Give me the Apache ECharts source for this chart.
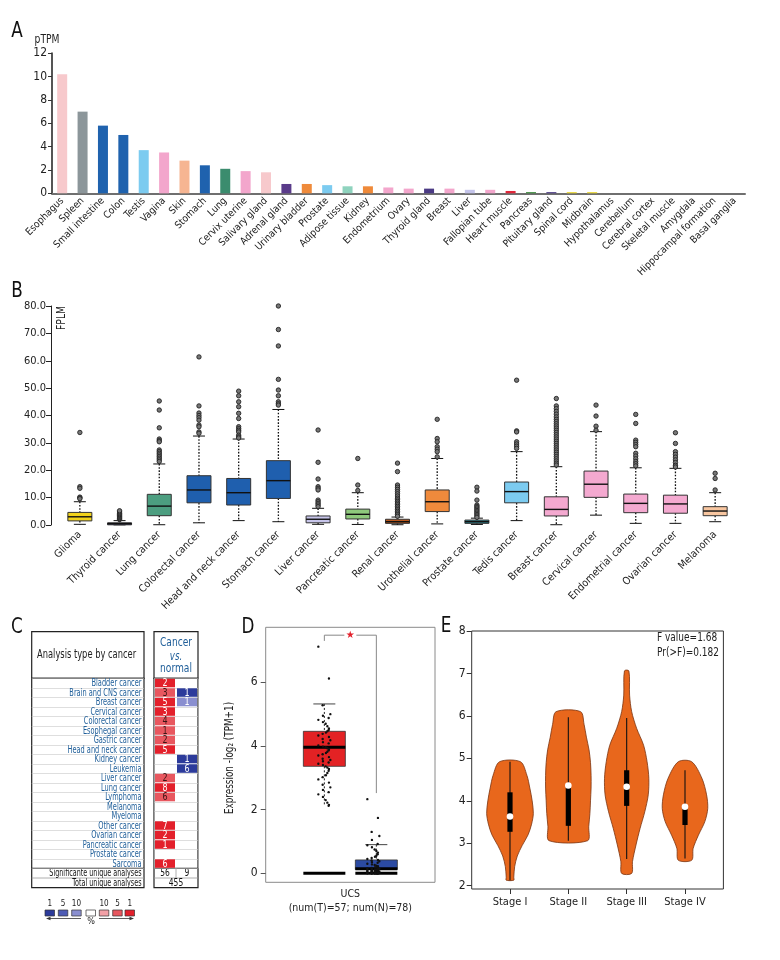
<!DOCTYPE html>
<html>
<head>
<meta charset="utf-8">
<title>Expression panels A-E</title>
<script src="https://cdn.jsdelivr.net/npm/echarts@6/dist/echarts.min.js"></script>
<style>
  html, body { margin: 0; padding: 0; background: #fff; }
  #chart { width: 780px; height: 960px; }
</style>
</head>
<body>
<div id="chart"></div>
<script>
// ---------- Panel A: normal tissue pTPM ----------
const tissueNames = ['Esophagus', 'Spleen', 'Small intestine', 'Colon', 'Testis', 'Vagina', 'Skin', 'Stomach',
    'Lung', 'Cervix uterine', 'Salivary gland', 'Adrenal gland', 'Urinary bladder', 'Prostate', 'Adipose tissue',
    'Kidney', 'Endometrium', 'Ovary', 'Thyroid gland', 'Breast', 'Liver', 'Fallopian tube', 'Heart muscle',
    'Pancreas', 'Pituitary gland', 'Spinal cord', 'Midbrain', 'Hypothalamus', 'Cerebellum', 'Cerebral cortex',
    'Skeletal muscle', 'Amygdala', 'Hippocampal formation', 'Basal ganglia'];
const tissuePTPM = [10.2, 7.0, 5.8, 5.0, 3.7, 3.5, 2.8, 2.4, 2.1, 1.9, 1.8, 0.8, 0.8, 0.7, 0.6, 0.6, 0.5, 0.4,
    0.4, 0.4, 0.3, 0.3, 0.2, 0.1, 0.1, 0.1, 0.1, 0, 0, 0, 0, 0, 0, 0];

// ---------- Panel B: cancer FPKM boxplots ----------
const cancerNames = ['Glioma', 'Thyroid cancer', 'Lung cancer', 'Colorectal cancer', 'Head and neck cancer',
    'Stomach cancer', 'Liver cancer', 'Pancreatic cancer', 'Renal cancer', 'Urothelial cancer', 'Prostate cancer',
    'Tedis cancer', 'Breast cancer', 'Cervical cancer', 'Endometrial cancer', 'Ovarian cancer', 'Melanoma'];
const boxLow    = [0.25, 0.05, 0.1, 0.8, 1.6, 1.2, 0.25, 0.2, 0.1, 0.4, 0.2, 1.6, 0.1, 3.6, 0.6, 0.6, 1.2];
const boxQ1     = [1.5, 0.2, 3.4, 8.1, 7.3, 9.7, 0.8, 2.2, 0.6, 4.9, 0.6, 8.1, 3.3, 10.1, 4.5, 4.3, 3.4];
const boxMedian = [3.0, 0.5, 6.9, 12.8, 11.8, 16.2, 2.1, 3.9, 1.2, 8.5, 1.2, 12.2, 5.7, 14.9, 7.9, 7.7, 5.1];
const boxQ3     = [4.6, 0.8, 11.2, 18.0, 17.0, 23.5, 3.3, 5.8, 2.1, 12.8, 1.8, 15.7, 10.3, 19.7, 11.3, 10.9, 6.7];
const boxHigh   = [8.5, 1.6, 22.3, 32.5, 31.4, 42.2, 6.1, 11.8, 2.9, 24.3, 2.5, 26.8, 21.3, 34.1, 20.9, 20.7, 11.8];
const boxOutliers = [
    [33.8, 14.0, 13.4, 10.2, 9.9, 9.6],
    [2.0, 2.3, 2.6, 2.9, 3.2, 3.5, 3.8, 4.1, 4.4, 4.8, 5.2],
    [45.3, 42.0, 35.5, 31.4, 30.8, 30.4, 27.4, 26.8, 26.2, 25.6, 25.0, 24.4, 23.8, 23.2],
    [61.4, 43.5, 40.9, 40.0, 39.2, 38.3, 36.5, 35.9, 34.0, 33.5],
    [48.9, 47.2, 45.0, 43.2, 40.8, 38.9, 35.9, 35.2, 34.6, 34.0, 32.8, 32.2, 31.8],
    [80.0, 71.4, 65.4, 53.2, 49.3, 47.2, 45.0, 44.3, 43.8],
    [34.7, 22.9, 16.8, 14.0, 13.4, 12.8, 9.1, 8.5, 7.9, 7.3, 6.7],
    [24.3, 14.6, 12.6],
    [22.6, 19.5, 14.6, 13.8, 13.0, 12.2, 11.4, 10.6, 9.8, 9.2, 8.6, 8.0, 7.4, 6.8, 6.2, 5.6, 5.0, 4.4, 3.8, 3.2],
    [38.6, 31.6, 30.4, 28.6, 27.7, 26.8, 24.9],
    [13.8, 12.4, 9.1, 7.3, 6.8, 6.3, 5.8, 5.3, 4.8, 4.3, 3.8, 3.3, 2.8],
    [52.9, 34.4, 34.0, 30.4, 29.6, 28.8, 28.0],
    [46.2, 43.5, 42.5, 41.5, 40.5, 39.5, 38.6, 37.8, 37.0, 36.2, 35.4, 34.6, 33.8, 33.0, 32.2, 31.4, 30.6,
        29.8, 29.0, 28.2, 27.4, 26.6, 25.8, 25.0, 24.2, 23.4, 22.6, 21.9],
    [43.8, 39.8, 36.1, 34.6],
    [40.4, 37.1, 31.0, 30.2, 29.4, 28.6, 26.2, 25.2, 24.2, 23.2, 22.4, 21.6],
    [33.7, 29.8, 26.8, 25.8, 24.8, 23.8, 22.8, 21.8, 21.2],
    [18.9, 17.0, 12.8]
];

// ---------- Panel C: Oncomine cancer vs. normal ----------
const oncoCancers = ['Bladder cancer', 'Brain and CNS cancer', 'Breast cancer', 'Cervical cancer',
    'Colorectal cancer', 'Esophegal cancer', 'Gastric cancer', 'Head and neck cancer', 'Kidney cancer',
    'Leukemia', 'Liver cancer', 'Lung cancer', 'Lymphoma', 'Melanoma', 'Myeloma', 'Other cancer',
    'Ovarian cancer', 'Pancreatic cancer', 'Prostate cancer', 'Sarcoma'];
const upCounts   = [2, 3, 5, 3, 4, 1, 2, 5, null, null, 2, 8, 6, null, null, 7, 2, 1, null, 6];
const upRanks    = [1, 5, 1, 1, 5, 5, 5, 1, null, null, 5, 1, 5, null, null, 1, 1, 1, null, 1];
const downCounts = [null, 1, 1, null, null, null, null, null, 1, 6, null, null, null, null, null, null, null, null, null, null];
const downRanks  = [null, 1, 10, null, null, null, null, null, 1, 1, null, null, null, null, null, null, null, null, null, null];
const significantUp = 56;
const significantDown = 9;
const totalAnalyses = 455;
const legendRanks = [1, 5, 10];

// ---------- Panel D: UCS tumour vs normal ----------
const ucsTumorBox = [2.13, 3.36, 3.96, 4.46, 5.32];   // low, Q1, median, Q3, high
const ucsNormalBox = [0, 0.12, 0.14, 0.42, 0.9];
const ucsTumorPoints = [7.12, 6.12, 5.28, 5.0, 4.95, 4.88, 4.82, 4.75, 4.7, 4.62,
    4.55, 4.5, 4.46, 4.42, 4.38, 4.33, 4.28, 4.22, 4.18, 4.12,
    4.08, 4.02, 3.98, 3.96, 3.93, 3.9, 3.86, 3.82, 3.78, 3.74,
    3.7, 3.65, 3.6, 3.56, 3.52, 3.48, 3.44, 3.4, 3.36, 3.32,
    3.28, 3.22, 3.15, 3.08, 3.02, 2.95, 2.85, 2.78, 2.7, 2.62,
    2.55, 2.48, 2.4, 2.3, 2.22, 2.15, 2.12];
const ucsNormalPoints = [2.33, 1.74, 1.3, 1.17, 1.05, 0.92, 0.88, 0.82, 0.75, 0.7,
    0.65, 0.6, 0.55, 0.52, 0.48, 0.45, 0.42, 0.4, 0.38, 0.35,
    0.33, 0.3, 0.28, 0.26, 0.24, 0.22, 0.2, 0.19, 0.18, 0.17,
    0.16, 0.15, 0.14, 0.14, 0.13, 0.13, 0.12, 0.12, 0.11, 0.11,
    0.1, 0.1, 0.09, 0.09, 0.08, 0.08, 0.07, 0.07, 0.06, 0.06,
    0.05, 0.05, 0.05, 0.04, 0.04, 0.04, 0.03, 0.03, 0.03, 0.02,
    0.02, 0.02, 0.02, 0.01, 0.01, 0.01, 0.01, 0.01, 0, 0,
    0, 0, 0, 0, 0, 0, 0, 0];
const ucsCategory = ['UCS'];
const ucsTumorN = 57;
const ucsNormalN = 78;

// ---------- Panel E: expression by stage (violins) ----------
const stageNames = ['Stage I', 'Stage II', 'Stage III', 'Stage IV'];
const violinLevels = [
    [4.92, 4.6, 4.3, 4.0, 3.7, 3.45, 3.2, 2.95, 2.7, 2.45, 2.2, 2.13],
    [6.1, 5.8, 5.5, 5.2, 4.9, 4.6, 4.3, 4.0, 3.7, 3.4, 3.06],
    [7.06, 6.49, 6.1, 5.71, 5.31, 4.92, 4.53, 4.14, 3.74, 3.35, 2.96, 2.57, 2.29],
    [4.92, 4.53, 4.14, 3.82, 3.51, 3.19, 2.88, 2.6]
];
// half width of each violin at those levels, in units of the stage spacing
const violinDensity = [
    [0.18, 0.29, 0.34, 0.38, 0.40, 0.37, 0.31, 0.21, 0.125, 0.08, 0.065, 0.065],
    [0.21, 0.27, 0.31, 0.355, 0.38, 0.39, 0.39, 0.38, 0.37, 0.35, 0.33],
    [0.038, 0.05, 0.086, 0.17, 0.29, 0.35, 0.38, 0.37, 0.31, 0.23, 0.16, 0.10, 0.086],
    [0.115, 0.29, 0.37, 0.39, 0.34, 0.23, 0.14, 0.115]
];
const stageLow    = [2.13, 3.06, 2.63, 2.64];
const stageQ1     = [3.27, 3.41, 3.88, 3.43];
const stageMedian = [3.63, 4.36, 4.33, 3.86];
const stageQ3     = [4.2, 4.32, 4.72, 3.86];
const stageHigh   = [4.92, 5.97, 5.95, 4.72];
const fValue = 1.68;
const prF = 0.182;

// ---------- styles ----------
const FONT = '"Liberation Sans Narrow", "DejaVu Sans Condensed", Roboto, sans-serif';
const tissueColors = ['#f7c9cc', '#8c969a', '#1f62ae', '#1f62ae', '#7ccbf0', '#f3a6cc', '#f6b592', '#1f62ae',
    '#3b8c6e', '#f3a6cc', '#f7c9cc', '#5a3b8a', '#ef8a3a', '#7ccbf0', '#8fd3be', '#ef8a3a', '#f3a6cc', '#f3a6cc',
    '#4b3a84', '#f3a6cc', '#c4c4ea', '#f3a6cc', '#e0263a', '#3a8a3a', '#4b3a84', '#e8d530', '#e8d530',
    '#cccccc', '#cccccc', '#cccccc', '#cccccc', '#cccccc', '#cccccc', '#cccccc'];
const cancerColors = ['#f2d31b', '#3b3a6e', '#4c9e80', '#1f5fae', '#1f5fae', '#1f5fae', '#c7c5ea', '#8ec87c',
    '#b8561c', '#ef8a3c', '#2b8c99', '#7ccbf0', '#f4a9d0', '#f4a9d0', '#f4a9d0', '#f4a9d0', '#f8c6a0'];
const redShades = { 1: '#e3202b', 5: '#e8575f', 10: '#f2a0a6' };
const blueShades = { 1: '#2c3b9b', 5: '#4d5bb5', 10: '#8a8fd0' };
const oncoBlue = '#1f5e99';

function font(size, extra) {
    return (extra ? extra + ' ' : '') + size + 'px ' + FONT;
}

// Panel B box renderer
function renderCancerBox(params, api) {
    const i = api.value(0);
    const cx = api.coord([i, 0])[0];
    const y = v => api.coord([i, v])[1];
    const half = 12, cap = 6;
    const dotted = { stroke: '#111', lineWidth: 1.3, lineDash: [1.6, 1.6] };
    const solid = { stroke: '#111', lineWidth: 1 };
    const children = [
        { type: 'line', shape: { x1: cx, y1: y(boxHigh[i]), x2: cx, y2: y(boxQ3[i]) }, style: dotted },
        { type: 'line', shape: { x1: cx, y1: y(boxQ1[i]), x2: cx, y2: y(boxLow[i]) }, style: dotted },
        { type: 'line', shape: { x1: cx - cap, y1: y(boxHigh[i]), x2: cx + cap, y2: y(boxHigh[i]) }, style: solid },
        { type: 'line', shape: { x1: cx - cap, y1: y(boxLow[i]), x2: cx + cap, y2: y(boxLow[i]) }, style: solid },
        {
            type: 'rect',
            shape: { x: cx - half, y: y(boxQ3[i]), width: half * 2, height: Math.max(y(boxQ1[i]) - y(boxQ3[i]), 2) },
            style: { fill: cancerColors[i], stroke: '#333', lineWidth: 1 }
        },
        { type: 'line', shape: { x1: cx - half, y1: y(boxMedian[i]), x2: cx + half, y2: y(boxMedian[i]) },
          style: { stroke: '#111', lineWidth: 1.4 } }
    ];
    boxOutliers[i].forEach(v => {
        children.push({ type: 'circle', shape: { cx: cx, cy: y(v), r: 2.2 },
            style: { fill: '#777', stroke: '#222', lineWidth: 0.9 } });
    });
    return { type: 'group', children: children };
}

// Panel C row label renderer (condensed text, right aligned in the left table)
function renderRowLabel(params, api) {
    const row = api.value(1);
    const c = api.coord([1, row]);
    return { type: 'text', x: c[0] - 2.5, y: c[1] + 0.5, scaleX: 0.7,
        style: { text: oncoCancers[row], fill: oncoBlue, font: font(10.5), align: 'right', verticalAlign: 'middle' } };
}

// Panel C cell renderer
function renderCell(params, api) {
    const col = api.value(0), row = api.value(1);
    const count = api.value(2), rank = api.value(3);
    const c = api.coord([col, row]);
    const s = api.size([1, 1]);
    const fill = (col === 0 ? redShades : blueShades)[rank];
    const textFill = (col === 0 && rank !== 1) ? '#3a1414' : '#ffffff';
    return {
        type: 'group',
        children: [
            { type: 'rect', shape: { x: c[0] - s[0] / 2 + 1, y: c[1] - s[1] / 2 + 0.5, width: s[0] - 2, height: s[1] - 1 },
              style: { fill: fill } },
            { type: 'text', x: c[0], y: c[1] + 0.5, scaleX: 0.85,
              style: { text: String(count), fill: textFill, font: font(10.5), align: 'center', verticalAlign: 'middle' } }
        ]
    };
}

// Panel D box renderer (tumour left, normal right of the category centre)
function renderUcsBoxes(params, api) {
    const cx = api.coord([0, 0])[0];
    const y = v => api.coord([0, v])[1];
    const children = [];
    [[ucsTumorBox, -26, '#e32224'], [ucsNormalBox, 26, '#2b4aa2']].forEach(([b, dx, color]) => {
        const x = cx + dx, half = 21, cap = 11;
        const dotted = { stroke: '#222', lineWidth: 1, lineDash: [2, 2] };
        children.push(
            { type: 'line', shape: { x1: x, y1: y(b[4]), x2: x, y2: y(b[3]) }, style: dotted },
            { type: 'line', shape: { x1: x, y1: y(b[1]), x2: x, y2: y(b[0]) }, style: dotted },
            { type: 'line', shape: { x1: x - cap, y1: y(b[4]), x2: x + cap, y2: y(b[4]) }, style: { stroke: '#444', lineWidth: 1 } },
            { type: 'rect', shape: { x: x - half, y: y(b[3]), width: half * 2, height: y(b[1]) - y(b[3]) },
              style: { fill: color, stroke: '#333', lineWidth: 0.8 } },
            { type: 'line', shape: { x1: x - half, y1: y(b[2]), x2: x + half, y2: y(b[2]) }, style: { stroke: '#000', lineWidth: 3 } },
            { type: 'line', shape: { x1: x - half, y1: y(0), x2: x + half, y2: y(0) }, style: { stroke: '#000', lineWidth: 3 } }
        );
    });
    // significance bracket
    const xl = cx - 26, xr = cx + 26, yTop = y(7.48);
    const bracket = { stroke: '#888', lineWidth: 1 };
    children.push(
        { type: 'line', shape: { x1: xl, y1: y(7.3), x2: xl, y2: yTop }, style: bracket },
        { type: 'line', shape: { x1: xl, y1: yTop, x2: cx - 6, y2: yTop }, style: bracket },
        { type: 'line', shape: { x1: cx + 6, y1: yTop, x2: xr, y2: yTop }, style: bracket },
        { type: 'line', shape: { x1: xr, y1: yTop, x2: xr, y2: y(2.52) }, style: bracket },
        { type: 'text', x: cx, y: yTop, style: { text: '\u2605', fill: '#e3202b', font: '10px "DejaVu Sans"',
          align: 'center', verticalAlign: 'middle' } }
    );
    return { type: 'group', children: children };
}

// jittered sample dots; the offset is a fixed scramble of the point index
function pointRenderer(dx) {
    return function (params, api) {
        const c = api.coord([0, api.value(1)]);
        const k = params.dataIndex;
        const jitter = ((k * k * 7 + k * 3) % 15) - 7 + ((k * 5) % 3) * 0.3;
        return { type: 'circle', shape: { cx: c[0] + dx + jitter, cy: c[1], r: 1.2 }, style: { fill: '#111' } };
    };
}

// Panel E violin renderer
function renderViolin(params, api) {
    const i = api.value(0);
    const cx = api.coord([i, 4])[0];
    const unit = api.coord([1, 4])[0] - api.coord([0, 4])[0];
    const y = v => api.coord([i, v])[1];
    const lv = violinLevels[i], dn = violinDensity[i];
    const right = lv.map((v, k) => [cx + dn[k] * unit, y(v)]);
    const left = lv.map((v, k) => [cx - dn[k] * unit, y(v)]).reverse();
    return {
        type: 'group',
        children: [
            { type: 'polygon', shape: { points: right.concat(left), smooth: 0.3 },
              style: { fill: '#e8671c', stroke: '#7a3410', lineWidth: 0.8 } },
            { type: 'line', shape: { x1: cx, y1: y(stageHigh[i]), x2: cx, y2: y(stageLow[i]) },
              style: { stroke: '#111', lineWidth: 1.1 } },
            { type: 'rect', shape: { x: cx - 2.6, y: y(stageQ3[i]), width: 5.2, height: y(stageQ1[i]) - y(stageQ3[i]) },
              style: { fill: '#000' } },
            { type: 'circle', shape: { cx: cx, cy: y(stageMedian[i]), r: 3.3 }, style: { fill: '#fff' } }
        ]
    };
}

// ---------- static decorations (panel letters, table frames, legend) ----------
function buildGraphics() {
    const g = [];
    const text = (t, x, y, opt) => g.push({ type: 'text', x: x, y: y,
        rotation: (opt && opt.rotation) || 0, scaleX: (opt && opt.scaleX) || 1,
        style: Object.assign({ text: t, font: font(11), fill: '#222', align: 'center', verticalAlign: 'middle' }, opt && opt.style) });
    const rect = (x, y, w, h, stroke, lw) => g.push({ type: 'rect', shape: { x: x, y: y, width: w, height: h },
        style: { fill: 'none', stroke: stroke || '#222', lineWidth: lw || 1.2 } });
    const line = (x1, y1, x2, y2, stroke, lw) => g.push({ type: 'line', shape: { x1: x1, y1: y1, x2: x2, y2: y2 },
        style: { stroke: stroke || '#222', lineWidth: lw || 1 } });

    // panel letters
    [['A', 17, 31], ['B', 17, 291], ['C', 17, 627], ['D', 248, 627], ['E', 446, 626]].forEach(([t, x, y]) =>
        text(t, x, y, { scaleX: 0.85, style: { font: font(22), fill: '#111' } }));

    // axis names and notes
    text('pTPM', 47, 40, { scaleX: 0.85, style: { font: font(12) } });
    text('FPLM', 62, 318, { rotation: Math.PI / 2, scaleX: 0.85, style: { font: font(12) } });
    text('Expression -log\u2082 (TPM+1)', 230, 758, { rotation: Math.PI / 2, scaleX: 0.82, style: { font: font(12) } });
    text('F value=' + fValue, 657, 638, { scaleX: 0.8, style: { font: font(12.5), align: 'left' } });
    text('Pr(>F)=' + prF, 657, 653, { scaleX: 0.8, style: { font: font(12.5), align: 'left' } });

    // panel C table frames
    rect(31.7, 631.7, 112.3, 46.6);
    rect(154, 631.7, 44, 46.6);
    rect(31.7, 678.3, 112.3, 209.4);
    rect(154, 678.3, 44, 209.4);
    text('Analysis type by cancer', 37, 655, { scaleX: 0.74, style: { font: font(12.5), align: 'left' } });
    text('Cancer', 176, 643, { scaleX: 0.78, style: { font: font(13), fill: oncoBlue } });
    text('vs.', 176, 656.5, { scaleX: 0.8, style: { font: font(12, 'italic'), fill: oncoBlue } });
    text('normal', 176, 669, { scaleX: 0.78, style: { font: font(13), fill: oncoBlue } });
    line(31.7, 868.3, 144, 868.3, '#222', 1.2);
    line(154, 868.3, 198, 868.3, '#222', 1.2);
    line(31.7, 878, 144, 878, '#999', 0.8);
    line(154, 878, 198, 878, '#999', 0.8);
    line(176, 868.3, 176, 878, '#999', 0.8);
    text('Significante unique analyses', 141.5, 873.3, { scaleX: 0.68, style: { font: font(10.5), align: 'right', fill: '#111' } });
    text('Total unique analyses', 141.5, 883, { scaleX: 0.68, style: { font: font(10.5), align: 'right', fill: '#111' } });
    text(String(significantUp), 165, 873.3, { scaleX: 0.8, style: { font: font(10.5), fill: '#111' } });
    text(String(significantDown), 187, 873.3, { scaleX: 0.8, style: { font: font(10.5), fill: '#111' } });
    text(String(totalAnalyses), 176, 883, { scaleX: 0.8, style: { font: font(10.5), fill: '#111' } });

    // panel C colour legend
    const sw = [45, 58.3, 71.7, 86, 99.3, 112.7, 125];
    const swFill = [blueShades[legendRanks[0]], blueShades[legendRanks[1]], blueShades[legendRanks[2]], '#ffffff',
        redShades[legendRanks[2]], redShades[legendRanks[1]], redShades[legendRanks[0]]];
    const swLabel = [legendRanks[0], legendRanks[1], legendRanks[2], '', legendRanks[2], legendRanks[1], legendRanks[0]];
    sw.forEach((x, k) => {
        g.push({ type: 'rect', shape: { x: x, y: 910, width: 9.5, height: 6 },
            style: { fill: swFill[k], stroke: '#333', lineWidth: 0.7 } });
        if (swLabel[k] !== '') text(String(swLabel[k]), x + 4.75, 903.5, { scaleX: 0.85, style: { font: font(9.5) } });
    });
    line(50, 918.5, 81, 918.5, '#333', 0.8);
    g.push({ type: 'polygon', shape: { points: [[46, 918.5], [50.5, 916.8], [50.5, 920.2]] }, style: { fill: '#333' } });
    line(99, 918.5, 130, 918.5, '#333', 0.8);
    g.push({ type: 'polygon', shape: { points: [[134, 918.5], [129.5, 916.8], [129.5, 920.2]] }, style: { fill: '#333' } });
    text('%', 91, 922, { style: { font: font(9) } });
    return g;
}

const chart = echarts.init(document.getElementById('chart'), null, { renderer: 'canvas' });

const hiddenValue = (gridIndex, min, max) => ({ type: 'value', gridIndex: gridIndex, show: false, min: min, max: max });

const cellData = [];
oncoCancers.forEach((name, r) => {
    if (upCounts[r] != null) cellData.push([0, r, upCounts[r], upRanks[r]]);
    if (downCounts[r] != null) cellData.push([1, r, downCounts[r], downRanks[r]]);
});

const option = {
    animation: false,
    backgroundColor: '#ffffff',
    textStyle: { fontFamily: FONT },
    grid: [
        { left: 52, top: 53.3, width: 693, height: 140, outerBoundsMode: 'none' },              // A
        { left: 60, top: 306, width: 675, height: 219, outerBoundsMode: 'none' },               // B
        { left: 31.7, top: 678.3, width: 112.3, height: 190, outerBoundsMode: 'none' },         // C labels
        { left: 154, top: 678.3, width: 44, height: 190, outerBoundsMode: 'none' },             // C cells
        { left: 265.7, top: 627.3, width: 169.3, height: 255, show: true, borderColor: '#8a8a8a',
          borderWidth: 1, outerBoundsMode: 'none' },                                             // D frame
        { left: 265.7, top: 682.3, width: 169.3, height: 191, outerBoundsMode: 'none' },        // D plot
        { left: 471.7, top: 631, width: 251.7, height: 258, show: true, borderColor: '#333',
          borderWidth: 1, outerBoundsMode: 'none' },                                             // E frame
        { left: 510, top: 631, width: 175, height: 254.7, outerBoundsMode: 'none' }             // E plot
    ],
    xAxis: [
        {
            type: 'category', gridIndex: 0, data: tissueNames,
            axisLine: { lineStyle: { color: '#6f6f6f', width: 2 } },
            axisTick: { alignWithLabel: true, length: 4, lineStyle: { color: '#333', width: 1.2 } },
            axisLabel: { rotate: 45, interval: 0, margin: 6, fontSize: 10, color: '#222', fontFamily: FONT }
        },
        {
            type: 'category', gridIndex: 1, data: cancerNames,
            axisLine: { show: false }, axisTick: { show: false },
            axisLabel: { rotate: 45, interval: 0, margin: 8, fontSize: 10.5, color: '#222', fontFamily: FONT }
        },
        { type: 'value', gridIndex: 2, show: false, min: 0, max: 1 },
        {
            type: 'category', gridIndex: 3, data: ['up', 'down'],
            axisLine: { show: false }, axisTick: { show: false }, axisLabel: { show: false },
            splitLine: { show: true, lineStyle: { color: '#bbb', width: 0.6 } }
        },
        hiddenValue(4, 0, 1),
        {
            type: 'category', gridIndex: 5, data: ucsCategory, offset: 9,
            axisLine: { show: false },
            axisTick: { alignWithLabel: true, length: 5, lineStyle: { color: '#555' } },
            axisLabel: {
                margin: 5, fontSize: 10.5, color: '#222', fontFamily: FONT, lineHeight: 14,
                formatter: v => v + '\n(num(T)=' + ucsTumorN + '; num(N)=' + ucsNormalN + ')'
            }
        },
        hiddenValue(6, 0, 1),
        {
            type: 'category', gridIndex: 7, data: stageNames, boundaryGap: false, offset: 3.3,
            axisLine: { show: false },
            axisTick: { length: 5, lineStyle: { color: '#333' } },
            axisLabel: { interval: 0, margin: 8, fontSize: 11, color: '#222', fontFamily: FONT }
        }
    ],
    yAxis: [
        {
            type: 'value', gridIndex: 0, min: 0, max: 12, interval: 2,
            axisLine: { show: true, lineStyle: { color: '#555', width: 2 } },
            axisTick: { show: true, length: 4, lineStyle: { color: '#333' } },
            splitLine: { show: false },
            axisLabel: { fontSize: 12, color: '#222', margin: 5, fontFamily: FONT }
        },
        {
            type: 'value', gridIndex: 1, min: 0, max: 80, interval: 10, offset: 9,
            axisLine: { show: true, lineStyle: { color: '#222', width: 1 } },
            axisTick: { show: true, length: 5, lineStyle: { color: '#222' } },
            splitLine: { show: false },
            axisLabel: { fontSize: 11, color: '#222', margin: 5, fontFamily: FONT, formatter: v => v.toFixed(1) }
        },
        {
            type: 'category', gridIndex: 2, data: oncoCancers, inverse: true,
            axisLine: { show: false }, axisTick: { show: false }, axisLabel: { show: false },
            splitLine: { show: true, interval: 0, lineStyle: { color: '#c8c8c8', width: 0.6 } }
        },
        {
            type: 'category', gridIndex: 3, data: oncoCancers, inverse: true,
            axisLine: { show: false }, axisTick: { show: false }, axisLabel: { show: false },
            splitLine: { show: true, interval: 0, lineStyle: { color: '#c8c8c8', width: 0.6 } }
        },
        hiddenValue(4, 0, 1),
        {
            type: 'value', gridIndex: 5, min: 0, max: 6, interval: 2,
            axisLine: { show: false },
            axisTick: { show: true, length: 5, lineStyle: { color: '#555' } },
            splitLine: { show: false },
            axisLabel: { fontSize: 12, color: '#222', margin: 8, fontFamily: FONT }
        },
        hiddenValue(6, 0, 1),
        {
            type: 'value', gridIndex: 7, min: 2, max: 8, interval: 1, offset: 38.3,
            axisLine: { show: false },
            axisTick: { show: true, length: 5, lineStyle: { color: '#333' } },
            splitLine: { show: false },
            axisLabel: { fontSize: 12, color: '#222', margin: 6, fontFamily: FONT }
        }
    ],
    series: [
        {
            type: 'bar', xAxisIndex: 0, yAxisIndex: 0, barWidth: 10,
            data: tissuePTPM.map((v, i) => ({ value: v, itemStyle: { color: tissueColors[i] } }))
        },
        {
            type: 'custom', xAxisIndex: 1, yAxisIndex: 1, renderItem: renderCancerBox,
            encode: { x: 0, y: 1 }, data: cancerNames.map((n, i) => [i, boxMedian[i]])
        },
        {
            type: 'custom', xAxisIndex: 2, yAxisIndex: 2, renderItem: renderRowLabel,
            encode: { x: 0, y: 1 }, data: oncoCancers.map((n, i) => [1, i])
        },
        {
            type: 'custom', xAxisIndex: 3, yAxisIndex: 3, renderItem: renderCell,
            encode: { x: 0, y: 1 }, data: cellData
        },
        {
            type: 'custom', xAxisIndex: 5, yAxisIndex: 5, renderItem: renderUcsBoxes,
            encode: { x: 0, y: 1 }, data: [[0, ucsTumorBox[2]]]
        },
        {
            type: 'custom', xAxisIndex: 5, yAxisIndex: 5, renderItem: pointRenderer(-25), z: 5,
            encode: { x: 0, y: 1 }, data: ucsTumorPoints.map(v => [0, v])
        },
        {
            type: 'custom', xAxisIndex: 5, yAxisIndex: 5, renderItem: pointRenderer(24), z: 5,
            encode: { x: 0, y: 1 }, data: ucsNormalPoints.map(v => [0, v])
        },
        {
            type: 'custom', xAxisIndex: 7, yAxisIndex: 7, renderItem: renderViolin,
            encode: { x: 0, y: 1 }, data: stageNames.map((n, i) => [i, stageMedian[i]])
        }
    ],
    graphic: buildGraphics()
};

chart.setOption(option);
</script>
</body>
</html>
